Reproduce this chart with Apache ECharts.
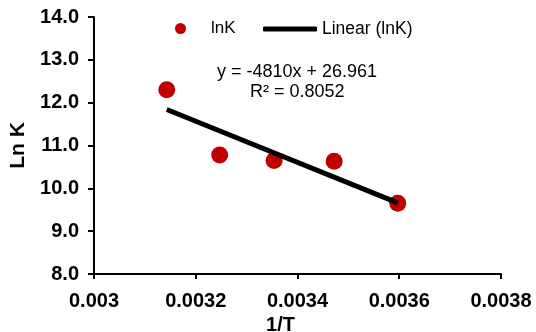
<!DOCTYPE html>
<html>
<head>
<meta charset="utf-8">
<script src="https://cdn.jsdelivr.net/npm/echarts@6/dist/echarts.min.js"></script>
<style>
  html, body { margin: 0; padding: 0; background: #fff; }
  #main { width: 536px; height: 332px; }
</style>
</head>
<body>
<div id="main"></div>
<script>
// measured points (1/T, ln K)
const invT = [0.003143, 0.003247, 0.003354, 0.003472, 0.003597];
const lnK = [12.30, 10.78, 10.65, 10.63, 9.65];

// trendline ends
const trendX = [0.003143, 0.003597];
const trendY = [11.84, 9.66];

const eqText = "y = -4810x + 26.961";
const r2Text = "R\u00B2 = 0.8052";

const font = "'Liberation Sans', Arial, sans-serif";
const chart = echarts.init(document.getElementById("main"));

chart.setOption({
  animation: false,
  textStyle: { fontFamily: font },
  grid: { left: 94, right: 35, top: 17, bottom: 58, outerBoundsMode: "none" },
  legend: [
    {
      data: [{ name: "lnK", icon: "circle" }],
      left: 170, top: 15,
      itemWidth: 11, itemHeight: 11,
      textStyle: { fontSize: 17, color: "#000", fontFamily: font, padding: [0, 0, 0, 20] }
    },
    {
      data: [{ name: "Linear (lnK)", icon: "roundRect" }],
      left: 258, top: 15,
      itemWidth: 54, itemHeight: 5,
      textStyle: { fontSize: 17.5, color: "#000", fontFamily: font }
    }
  ],
  xAxis: {
    type: "value",
    min: 0.003, max: 0.0038, interval: 0.0002,
    name: "1/T", nameLocation: "middle", nameGap: 36,
    nameTextStyle: {
      fontSize: 20, fontWeight: "bold", color: "#000", fontFamily: font,
      padding: [0, 34, 0, 0]
    },
    axisLine: { lineStyle: { color: "#000", width: 2 } },
    axisTick: { show: true, length: 5, lineStyle: { color: "#000", width: 2 } },
    axisLabel: { fontSize: 20, fontWeight: "bold", color: "#000", margin: 17, fontFamily: font },
    splitLine: { show: false }
  },
  yAxis: {
    type: "value",
    min: 8, max: 14, interval: 1,
    name: "Ln K", nameLocation: "middle", nameGap: 64,
    nameTextStyle: { fontSize: 21, fontWeight: "bold", color: "#000", fontFamily: font },
    axisLine: { show: true, lineStyle: { color: "#000", width: 2 } },
    axisTick: { show: true, length: 6, lineStyle: { color: "#000", width: 2 } },
    axisLabel: {
      fontSize: 20, fontWeight: "bold", color: "#000", margin: 15, fontFamily: font,
      formatter: v => v.toFixed(1)
    },
    splitLine: { show: false }
  },
  series: [
    {
      name: "lnK",
      type: "scatter",
      symbolSize: 17,
      itemStyle: { color: "#C00000", opacity: 1 },
      data: invT.map((x, i) => [x, lnK[i]]),
      z: 2
    },
    {
      name: "Linear (lnK)",
      type: "line",
      symbol: "none",
      lineStyle: { color: "#000", width: 5 },
      itemStyle: { color: "#000" },
      data: trendX.map((x, i) => [x, trendY[i]]),
      z: 3
    }
  ],
  graphic: [
    {
      type: "text", left: 217, top: 63,
      style: { text: eqText, font: "18px " + font, fill: "#000" }
    },
    {
      type: "text", left: 250, top: 83,
      style: { text: r2Text, font: "18px " + font, fill: "#000" }
    }
  ]
});
</script>
</body>
</html>
